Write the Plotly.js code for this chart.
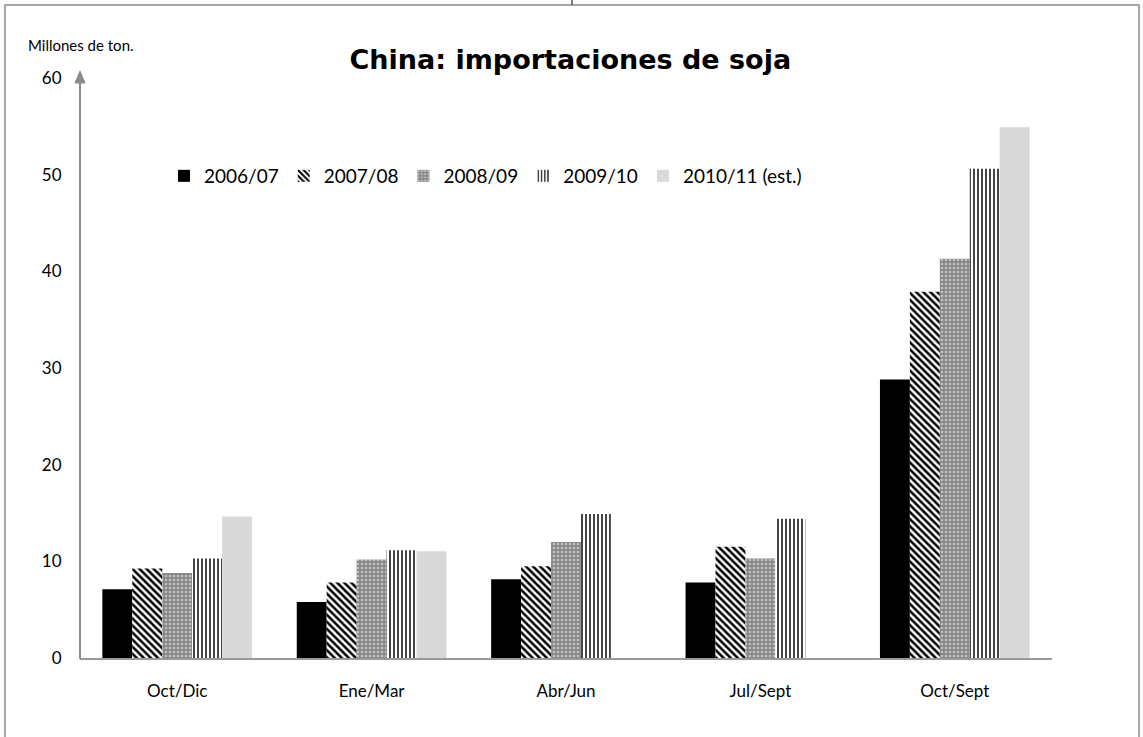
<!DOCTYPE html>
<html>
<head>
<meta charset="utf-8">
<script src="https://cdn.plot.ly/plotly-3.0.1.min.js"></script>
<style>
html,body{margin:0;padding:0;background:#fff;}
#chart{width:1143px;height:737px;}
</style>
</head>
<body>
<div id="chart"></div>
<script>
// Data
const categories = ["Oct/Dic", "Ene/Mar", "Abr/Jun", "Jul/Sept", "Oct/Sept"];
const seriesNames = ["2006/07", "2007/08", "2008/09", "2009/10", "2010/11 (est.)"];
const s2006 = [7.1, 5.8, 8.15, 7.8, 28.8];
const s2007 = [9.25, 7.8, 9.5, 11.5, 37.9];
const s2008 = [8.8, 10.2, 12.0, 10.3, 41.3];
const s2009 = [10.3, 11.15, 14.9, 14.4, 50.6];
const s2010 = [14.65, 11.05, null, null, 54.9];
const yTicks = [0, 10, 20, 30, 40, 50, 60];

const FONT = "Lato, Open Sans, sans-serif";
const TITLE_FONT = "DejaVu Sans, Verdana, sans-serif";

const styles = [
  {color: "#000000", line: {width: 0}},
  {color: "#ffffff", line: {width: 0}, pattern: {shape: "\\", fgcolor: "#000000", bgcolor: "#ffffff", size: 5, solidity: 0.5}},
  {color: "#8c8c8c", line: {width: 0}, pattern: {shape: ".", fgcolor: "#c0c0c0", bgcolor: "#878787", size: 4, solidity: 0.35}},
  {color: "#ffffff", line: {width: 0}, pattern: {shape: "|", fgcolor: "#303030", bgcolor: "#ffffff", size: 4, solidity: 0.45}},
  {color: "#d9d9d9", line: {width: 0}}
];
const allSeries = [s2006, s2007, s2008, s2009, s2010];

const traces = allSeries.map((vals, i) => ({
  type: "bar",
  name: seriesNames[i],
  x: categories,
  y: vals,
  marker: styles[i],
  hoverinfo: "x+y+name"
}));

// pixel helpers for decorative shapes (plot area: x 80..1052, y 78..658)
const L = 80, R = 1052, T = 78, B = 658;
const px = v => (v - L) / (R - L);
const py = v => (B - v) / (B - T);

const layout = {
  width: 1143,
  height: 737,
  margin: {l: L, r: 1143 - R, t: T, b: 737 - B, pad: 0},
  paper_bgcolor: "#ffffff",
  plot_bgcolor: "#ffffff",
  font: {family: FONT, color: "#000000", size: 17},
  title: {
    text: "<b>China: importaciones de soja</b>",
    font: {family: TITLE_FONT, size: 27, color: "#000000"},
    x: 0.499, xref: "container", xanchor: "center",
    y: 1 - 60 / 737, yref: "container", yanchor: "middle"
  },
  barmode: "group",
  bargap: 0.23,
  bargroupgap: 0,
  showlegend: true,
  legend: {
    orientation: "h",
    x: px(164), xanchor: "left",
    y: py(176), yanchor: "middle",
    font: {family: FONT, size: 19, color: "#000000"},
    bgcolor: "rgba(0,0,0,0)",
    itemwidth: 30,
    tracegroupgap: 0
  },
  xaxis: {
    type: "category",
    showgrid: false,
    zeroline: false,
    showline: true,
    linecolor: "#999999",
    linewidth: 2,
    ticks: "outside",
    ticklen: 17,
    tickcolor: "rgba(0,0,0,0)",
    tickfont: {family: FONT, size: 17, color: "#000000"},
    fixedrange: true
  },
  yaxis: {
    range: [0, 60],
    tickvals: yTicks,
    ticktext: yTicks.map(String),
    showgrid: false,
    zeroline: false,
    showline: false,
    ticks: "outside",
    ticklen: 14,
    tickcolor: "rgba(0,0,0,0)",
    tickfont: {family: FONT, size: 17, color: "#000000"},
    fixedrange: true
  },
  annotations: [
    {
      text: "Millones de ton.",
      xref: "paper", yref: "paper",
      x: px(26), y: py(45), xanchor: "left", yanchor: "middle",
      showarrow: false,
      font: {family: FONT, size: 15, color: "#000000"}
    }
  ],
  shapes: [
    // outer frame
    {type: "rect", xref: "paper", yref: "paper",
     x0: px(5), x1: px(1139), y0: py(760), y1: py(5),
     line: {color: "#8a8a8a", width: 1.5}, fillcolor: "rgba(0,0,0,0)", layer: "below"},
    // small tick at top
    {type: "line", xref: "paper", yref: "paper",
     x0: px(572), x1: px(572), y0: py(5), y1: py(-2),
     line: {color: "#555555", width: 1.5}},
    // y axis line
    {type: "line", xref: "paper", yref: "paper",
     x0: 0, x1: 0, y0: py(659), y1: py(80),
     line: {color: "#8a8a8a", width: 2}},
    // arrow head
    {type: "path", xref: "paper", yref: "paper",
     path: `M ${px(80)} ${py(71)} L ${px(75)} ${py(83)} L ${px(85)} ${py(83)} Z`,
     fillcolor: "#8a8a8a", line: {color: "#8a8a8a", width: 1}}
  ]
};

Plotly.newPlot("chart", traces, layout, {displayModeBar: false, staticPlot: true});
</script>
</body>
</html>
